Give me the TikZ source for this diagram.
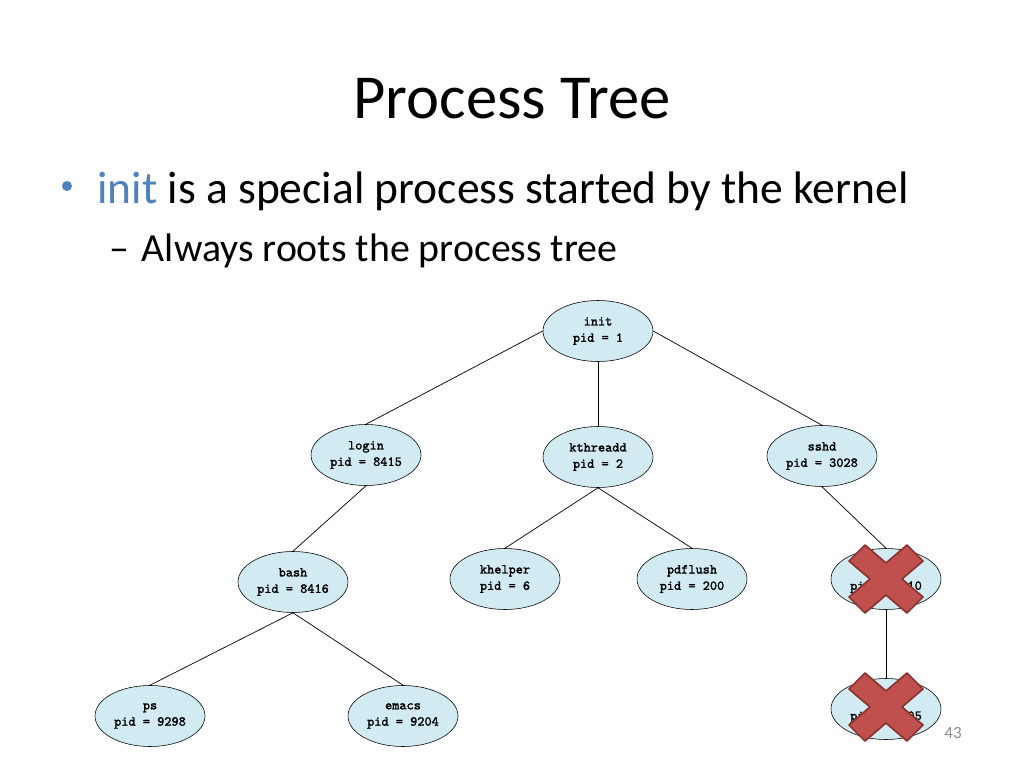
\documentclass[tikz,border=0pt]{standalone}
\usepackage{fontspec}
\setmainfont{Carlito}
\newfontfamily\procfont{Latin Modern Mono}[FakeBold=1.6]
\usetikzlibrary{positioning,shapes.geometric}
\definecolor{slideblue}{RGB}{79,129,189}
\definecolor{procfill}{RGB}{210,235,242}
\definecolor{crossred}{RGB}{192,80,77}
\definecolor{crossedge}{RGB}{140,52,48}
\newlength{\pxu}
\setlength{\pxu}{0.703pt}
\tikzset{
  procnode/.style={
    draw=black,
    ellipse,
    fill=procfill,
    minimum width=110\pxu,
    minimum height=61\pxu,
    inner sep=0pt,
    align=center,
    font=\procfont\fontsize{9.6}{11.5}\selectfont
  },
  treeedge/.style={
    draw=black,
    line width=0.5pt
  },
  killmark/.style={
    fill=crossred,
    draw=crossedge,
    line width=1.2pt,
    line join=round
  }
}
% red cross, centred at #1
\newcommand{\killcross}[1]{%
  \filldraw[killmark, shift={#1}]
    (-37,-18) -- (-21,-34) -- (0,-16) -- (21,-34) -- (37,-18) -- (16,0)
    -- (37,18) -- (21,34) -- (0,16) -- (-21,34) -- (-37,18) -- (-16,0) -- cycle;
}
\begin{document}
\begin{tikzpicture}[x=0.703pt, y=-0.703pt]
  \useasboundingbox[fill=white] (0,0) rectangle (1024,768);

  % heading and bullets
  \node[anchor=base, font=\fontsize{44}{50}\selectfont] (title) at (512,118) {Process Tree};
  \fill[slideblue] (67,186) circle (5);
  \node[anchor=base west, inner sep=0pt, font=\fontsize{32}{38}\selectfont] (point) at (97,203)
    {\textcolor{slideblue}{init} is a special process started by the kernel};
  \node[anchor=base west, inner sep=0pt, font=\fontsize{28}{34}\selectfont] (subpoint) at (109,261)
    {\textendash\hspace{9pt}Always roots the process tree};

  % the tree
  \node[procnode] (init) at (598,331) {init\\pid = 1};
  \node[procnode] (login) at (366,455) {login\\pid = 8415};
  \node[procnode] (kthreadd) at (598,457) {kthreadd\\pid = 2};
  \node[procnode] (sshd) at (822,456) {sshd\\pid = 3028};
  \node[procnode] (bash) at (293,582) {bash\\pid = 8416};
  \node[procnode] (khelper) at (505,579) {khelper\\pid = 6};
  \node[procnode] (pdflush) at (692,579) {pdflush\\pid = 200};
  \node[procnode] (sshdchild) at (886,579) {sshd\\pid = 3610};
  \node[procnode] (ps) at (150,716) {ps\\pid = 9298};
  \node[procnode] (emacs) at (403,716) {emacs\\pid = 9204};
  \node[procnode] (tcsch) at (886,709) {tcsch\\pid = 4005};

  \draw[treeedge] (init.west) -- (login.north);
  \draw[treeedge] (init.south) -- (kthreadd.north);
  \draw[treeedge] (init.east) -- (sshd.north);
  \draw[treeedge] (login.south) -- (bash.north);
  \draw[treeedge] (kthreadd.south) -- (khelper.north);
  \draw[treeedge] (kthreadd.south) -- (pdflush.north);
  \draw[treeedge] (sshd.south) -- (sshdchild.north);
  \draw[treeedge] (bash.south) -- (ps.north);
  \draw[treeedge] (bash.south) -- (emacs.north);
  \draw[treeedge] (sshdchild.south) -- (tcsch.north);

  % killed processes
  \killcross{(886,579)}
  \killcross{(886,707)}

  \node[text=black!45, font=\fontsize{12}{14}\selectfont] (pagenum) at (953,733) {43};
\end{tikzpicture}
\end{document}
